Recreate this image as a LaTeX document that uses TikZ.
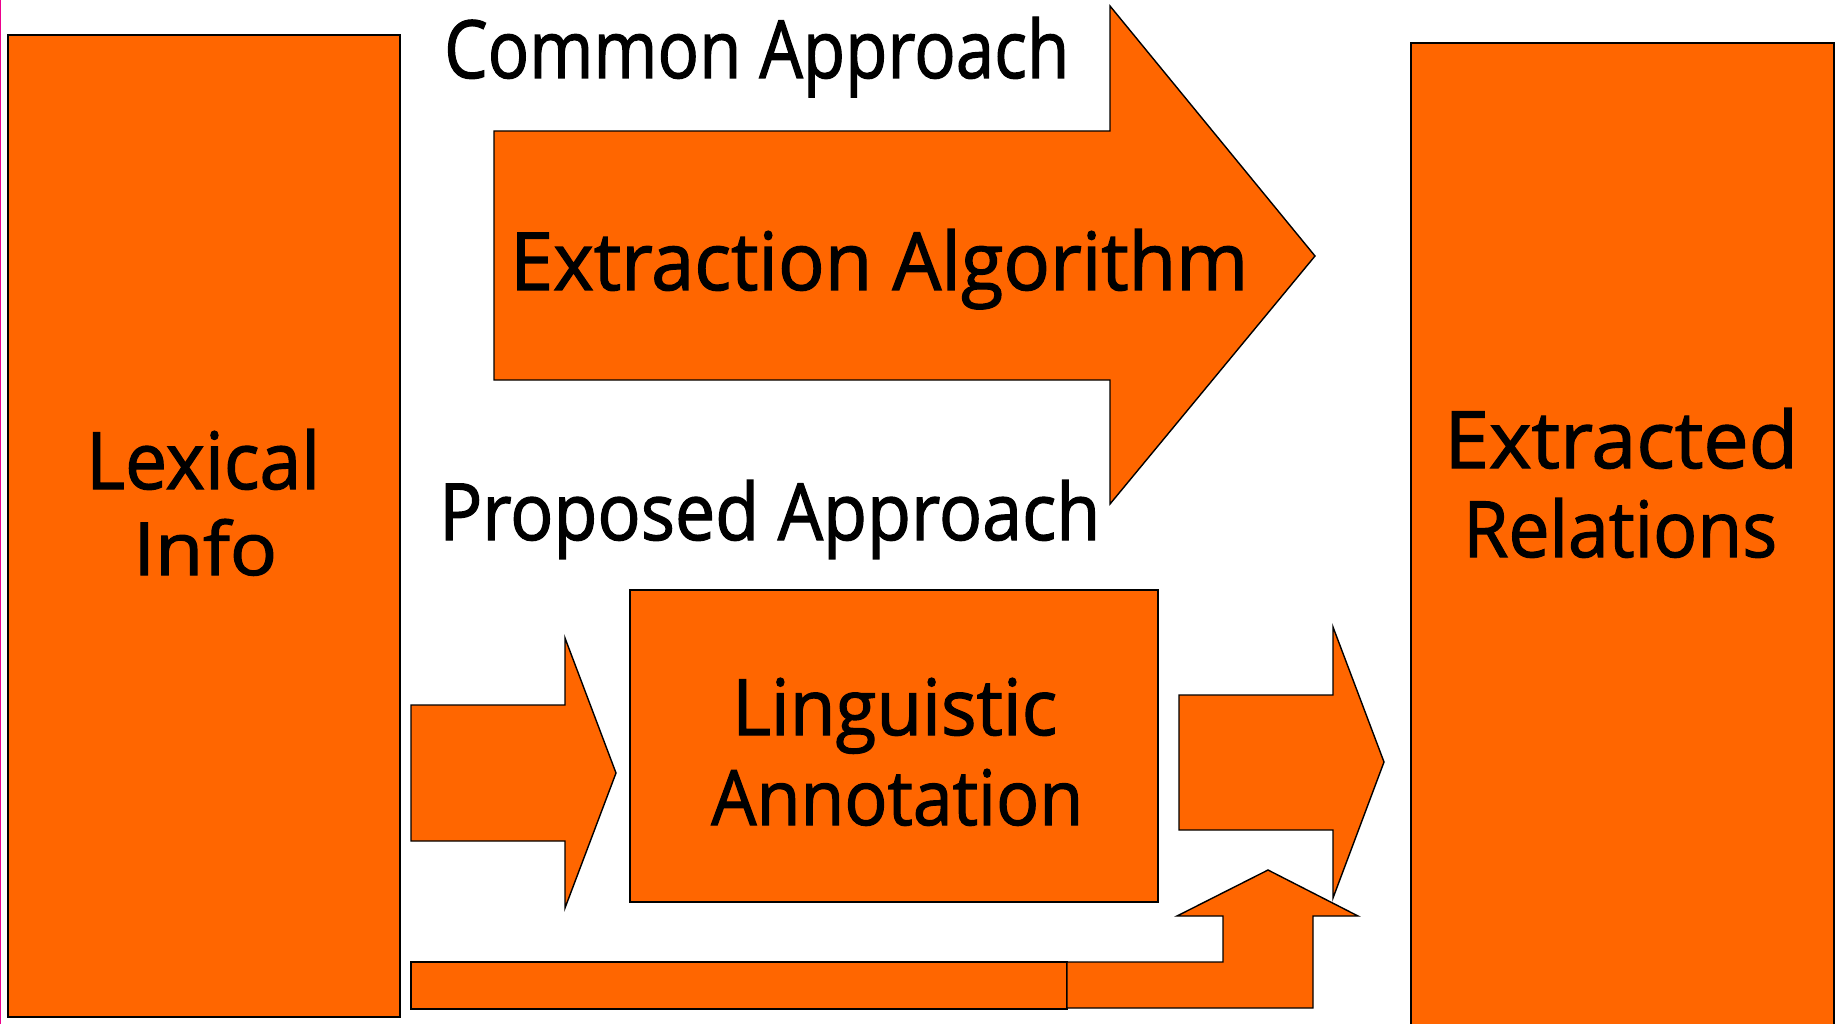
\documentclass[tikz,border=0pt]{standalone}
\usepackage{fontspec}
\setmainfont{Open Sans}
\newfontfamily\comicish[FakeBold=1.6]{Open Sans}
\usepackage{graphicx}
\definecolor{org}{RGB}{255,102,0}
\newcommand{\fitbox}[3]{\resizebox{#1pt}{#2pt}{#3}}
\begin{document}
\begin{tikzpicture}[x=1pt,y=-1pt,
  shp/.style={fill=org,draw=black,line width=1.4pt,line join=miter},
  lbl/.style={anchor=base west,inner sep=0pt,font=\comicish\fontsize{80}{90}\selectfont}]
\useasboundingbox (0,0) rectangle (1835,1024);
\fill[white] (0,0) rectangle (1835,1024);
\draw[magenta,line width=2pt] (0,0) -- (0,1024);
% big boxes
\draw[shp] (8,35) rectangle (400,1017);
\draw[shp] (1411,43) rectangle (1834,1040);
% common approach arrow
\draw[shp] (494,131) -- (1110,131) -- (1110,6) -- (1315,256) -- (1110,504) -- (1110,380) -- (494,380) -- cycle;
% proposed approach
\draw[shp] (411,705) -- (565,705) -- (565,638) -- (616,773) -- (565,908) -- (565,841) -- (411,841) -- cycle;
\draw[shp] (630,590) rectangle (1158,902);
\draw[shp] (1179,695) -- (1333,695) -- (1333,627) -- (1384,762) -- (1333,898) -- (1333,830) -- (1179,830) -- cycle;
\draw[shp] (411,962) rectangle (1067,1009);
\draw[shp] (1067,962) -- (1223,962) -- (1223,916) -- (1177,916) -- (1268,870) -- (1358,916) -- (1313,916) -- (1313,1008) -- (1067,1008) -- cycle;
% texts
\node[lbl] (common) at (444,78) {\fitbox{625}{61}{Common Approach}};
\node[lbl] (extr) at (510,290) {\fitbox{738}{61}{Extraction Algorithm}};
\node[lbl] (prop) at (439,540) {\fitbox{661}{60}{Proposed Approach}};
\node[lbl] (lex1) at (86,489) {\fitbox{234}{60}{Lexical}};
\node[lbl] (lex2) at (133,575) {\fitbox{144}{56}{Info}};
\node[lbl] (ling1) at (732,735) {\fitbox{325}{57}{Linguistic}};
\node[lbl] (ling2) at (711,825) {\fitbox{372}{56}{Annotation}};
\node[lbl] (rel1) at (1444,468) {\fitbox{354}{60}{Extracted}};
\node[lbl] (rel2) at (1463,557) {\fitbox{314}{59}{Relations}};
\end{tikzpicture}
\end{document}
